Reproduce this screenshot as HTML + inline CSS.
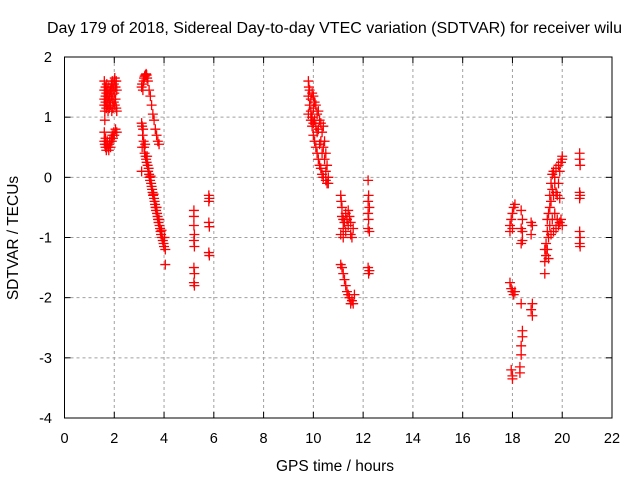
<!DOCTYPE html>
<html><head><meta charset="utf-8"><style>
body{margin:0;background:#fff;}
svg{display:block;font-family:"Liberation Sans",sans-serif;}
</style></head><body>
<svg id="chart" width="640" height="480" viewBox="0 0 640 480" xmlns="http://www.w3.org/2000/svg">
<rect width="640" height="480" fill="#fff"/>
<g id="grid"></g><g id="marks"></g><g id="axes"></g>
<text x="47" y="33" font-size="15.5" textLength="575" lengthAdjust="spacingAndGlyphs">Day 179 of 2018, Sidereal Day-to-day VTEC variation (SDTVAR) for receiver wilu</text>
<text x="335" y="471" font-size="15.5" text-anchor="middle">GPS time / hours</text>
<text x="18" y="238" font-size="15.5" text-anchor="middle" transform="rotate(-90 18 238)">SDTVAR / TECUs</text>
</svg>
<script>
const xTicks=[0,2,4,6,8,10,12,14,16,18,20,22];
const yTicks=[2,1,0,-1,-2,-3,-4];
const arcA=[[1.6,1.6],[1.6,1.45],[1.6,1.3],[1.6,1.2],[1.62,1.1],[1.62,0.95],[1.65,1.5],[1.65,1.35],[1.65,1.25],[1.68,1.4],[1.68,1.15],[1.7,1.55],[1.7,1.3],[1.72,1.45],[1.72,1.2],[1.75,1.35],[1.75,1.1],[1.78,1.5],[1.78,1.25],[1.8,1.4],[1.8,1.15],[1.82,1.3],[1.85,1.45],[1.85,1.2],[1.88,1.55],[1.88,1.35],[1.9,1.5],[1.9,1.1],[1.92,1.6],[1.92,1.3],[1.95,1.45],[1.95,1.15],[1.98,1.55],[1.98,1.25],[2.0,1.6],[2.0,1.4],[2.02,1.65],[2.02,1.2],[2.05,1.5],[2.05,1.3],[2.08,1.6],[2.08,1.15],[2.1,1.45],[2.1,1.1],
[1.6,0.75],[1.6,0.6],[1.62,0.55],[1.65,0.5],[1.65,0.65],[1.68,0.45],[1.7,0.55],[1.72,0.6],[1.75,0.5],[1.78,0.45],[1.8,0.55],[1.82,0.6],[1.85,0.5],[1.88,0.65],[1.9,0.6],[1.92,0.7],[1.95,0.65],[1.98,0.75],[2.0,0.7],[2.05,0.8],[2.1,0.75]];
const arcB=[[3.1,1.5],[3.12,1.55],[3.15,1.45],[3.18,1.6],[3.2,1.65],[3.22,1.68],[3.25,1.7],[3.28,1.72],[3.3,1.7],[3.32,1.65],[3.35,1.6],[3.4,1.45],[3.45,1.35],[3.5,1.2],[3.55,1.05],[3.6,0.95],[3.65,0.8],[3.7,0.7],[3.75,0.6],[3.8,0.55],
[3.1,0.9],[3.12,0.85],[3.14,0.7],[3.16,0.8],[3.18,0.6],[3.2,0.5],[3.22,0.4],[3.24,0.55],[3.26,0.35],[3.28,0.3],[3.3,0.25],[3.32,0.35],[3.34,0.2],[3.36,0.1],[3.38,0.15],[3.4,0.05],[3.42,0.0],[3.44,-0.05],[3.46,0.02],[3.48,-0.1],[3.5,-0.15],[3.52,-0.2],[3.54,-0.25],[3.56,-0.3],[3.58,-0.28],[3.6,-0.35],[3.62,-0.4],[3.64,-0.45],[3.66,-0.5],[3.68,-0.55],[3.7,-0.5],[3.72,-0.6],[3.74,-0.65],[3.76,-0.7],[3.78,-0.75],[3.8,-0.7],[3.82,-0.8],[3.84,-0.85],[3.86,-0.9],[3.88,-0.95],[3.9,-0.88],[3.92,-1.0],[3.95,-1.05],[3.98,-1.1],[4.0,-1.15],[4.02,-1.0],[4.05,-1.2],[4.05,-1.45],[3.1,0.1],[3.12,0.5]];
const arcC=[[5.2,-0.55],[5.2,-0.65],[5.2,-0.8],[5.22,-0.95],[5.2,-1.05],[5.22,-1.15],[5.2,-1.5],[5.22,-1.6],[5.2,-1.75],[5.22,-1.8],[5.8,-0.3],[5.8,-0.4],[5.82,-0.35],[5.8,-0.75],[5.82,-0.82],[5.8,-1.25],[5.82,-1.3]];
const arcD=[[9.8,1.6],[9.82,1.5],[9.8,1.35],[9.85,1.45],[9.85,1.2],[9.8,1.05],[9.9,1.3],[9.9,1.1],[9.9,0.95],[9.95,1.4],[9.95,1.0],[9.95,0.85],[10.0,1.35],[10.0,1.15],[10.0,0.9],[10.0,0.7],[10.05,1.25],[10.05,0.95],[10.05,0.6],[10.1,1.2],[10.1,0.85],[10.1,0.5],[10.15,1.05],[10.15,0.75],[10.15,0.4],[10.2,1.1],[10.2,0.8],[10.2,0.3],[10.25,0.95],[10.25,0.55],[10.25,0.2],[10.3,0.9],[10.3,0.6],[10.3,0.15],[10.35,0.75],[10.35,0.4],[10.35,0.05],[10.4,0.85],[10.4,0.5],[10.4,0.0],[10.45,0.6],[10.45,0.3],[10.5,0.4],[10.5,0.1],[10.5,-0.05],[10.55,0.2],[10.55,-0.1],[10.6,0.0],[10.6,-0.1]];
const arcE=[[11.1,-0.3],[11.12,-0.4],[11.15,-0.5],[11.15,-0.65],[11.2,-0.7],[11.2,-0.85],[11.25,-0.75],[11.3,-0.6],[11.3,-0.9],[11.35,-0.7],[11.4,-0.8],[11.4,-0.55],[11.45,-0.65],[11.5,-0.75],[11.5,-0.95],[11.55,-1.0],[11.6,-0.85],[11.2,-1.0],[11.1,-0.95],
[11.1,-1.45],[11.15,-1.5],[11.2,-1.6],[11.25,-1.7],[11.3,-1.8],[11.35,-1.9],[11.4,-1.95],[11.45,-2.0],[11.5,-2.1],[11.55,-2.05],[11.6,-2.1],[11.65,-1.95],
[12.2,-0.05],[12.22,-0.3],[12.2,-0.4],[12.25,-0.5],[12.2,-0.6],[12.22,-0.7],[12.2,-0.85],[12.25,-0.9],[12.2,-1.5],[12.22,-1.6],[12.25,-1.55]];
const arcF=[[17.9,-0.8],[17.95,-0.7],[18.0,-0.6],[18.05,-0.5],[18.1,-0.45],[17.9,-0.9],[18.0,-0.85],[17.9,-1.75],[17.95,-1.85],[18.0,-1.9],[18.05,-1.95],[18.1,-1.9],[17.95,-3.2],[18.0,-3.3],[18.0,-3.35],[18.35,-0.55],[18.4,-0.7],[18.35,-0.85],[18.4,-0.9],[18.35,-1.1],[18.4,-1.05],[18.35,-2.1],[18.4,-2.55],[18.4,-2.65],[18.35,-2.8],[18.35,-2.95],[18.3,-3.15],[18.3,-3.25],[18.75,-0.75],[18.8,-0.8],[18.75,-0.95],[18.8,-2.1],[18.75,-2.2],[18.8,-2.3]];
const arcG=[[19.3,-1.6],[19.3,-1.4],[19.35,-1.3],[19.35,-1.1],[19.4,-1.2],[19.4,-0.9],[19.4,-0.7],[19.45,-1.0],[19.45,-0.6],[19.5,-0.8],[19.5,-0.5],[19.5,-0.3],[19.55,-0.95],[19.55,-0.4],[19.55,-0.1],[19.6,-0.7],[19.6,-0.2],[19.6,0.05],[19.65,-0.9],[19.65,-0.3],[19.65,0.1],[19.7,-0.6],[19.7,-0.1],[19.7,0.0],[19.75,-0.85],[19.75,-0.25],[19.75,0.15],[19.8,-0.7],[19.8,-0.3],[19.85,-0.8],[19.85,-0.1],[19.9,-0.75],[19.9,-0.35],[19.95,-0.7],[19.95,0.25],[20.0,0.3],[20.0,0.35],[20.0,-0.8],[19.85,0.2],[19.9,0.1],[19.3,-1.2],[19.45,-1.35],
[20.7,0.4],[20.7,0.3],[20.72,0.2],[20.7,-0.25],[20.72,-0.3],[20.7,-0.35],[20.7,-0.9],[20.72,-1.0],[20.7,-1.1],[20.72,-1.15]];
const arcs=[arcA,arcB,arcC,arcD,arcE,arcF,arcG];

const L=64.5,R=612,T=57,B=418;
const xs=h=>L+(h-0)*(R-L)/22;
const ys=v=>T+(2-v)*(B-T)/6;
const NS='http://www.w3.org/2000/svg';
function mk(tag,attrs,parent){const e=document.createElementNS(NS,tag);for(const k in attrs)e.setAttribute(k,attrs[k]);parent.appendChild(e);return e;}
const grid=document.getElementById('grid'),axes=document.getElementById('axes'),marks=document.getElementById('marks');
xTicks.forEach(t=>{const x=xs(t);
 if(t>0&&t<22){const g=mk('line',{x1:x,x2:x,y1:T,y2:B,stroke:'#a0a0a0','stroke-dasharray':'3,3'},grid);
 
 }
 mk('line',{x1:x,x2:x,y1:B,y2:B-6,stroke:'#000'},axes);mk('line',{x1:x,x2:x,y1:T,y2:T+6,stroke:'#000'},axes);
 const tx=mk('text',{x:x,y:443,'font-size':14.5,'text-anchor':'middle'},axes);tx.textContent=t;
 
 });
yTicks.forEach(t=>{const y=ys(t);
 if(t>-4&&t<2){const g=mk('line',{x1:L,x2:R,y1:y,y2:y,stroke:'#a0a0a0','stroke-dasharray':'3,3'},grid);
 
 }
 mk('line',{x1:L,x2:L+6,y1:y,y2:y,stroke:'#000'},axes);mk('line',{x1:R,x2:R-6,y1:y,y2:y,stroke:'#000'},axes);
 const tx=mk('text',{x:52,y:y+5,'font-size':14.5,'text-anchor':'end'},axes);tx.textContent=t;
 
 });
const fr=mk('rect',{x:L,y:T,width:R-L,height:B-T,fill:'none',stroke:'#000'},axes);


arcs.forEach(arc=>arc.forEach(p=>{const x=xs(p[0]),y=ys(p[1]);
 const m=mk('path',{d:`M${x-5},${y}H${x+5}M${x},${y-5}V${y+5}`,stroke:'#ff0000','stroke-width':1.3,fill:'none'},marks);
 
 }));
</script>
</body></html>
